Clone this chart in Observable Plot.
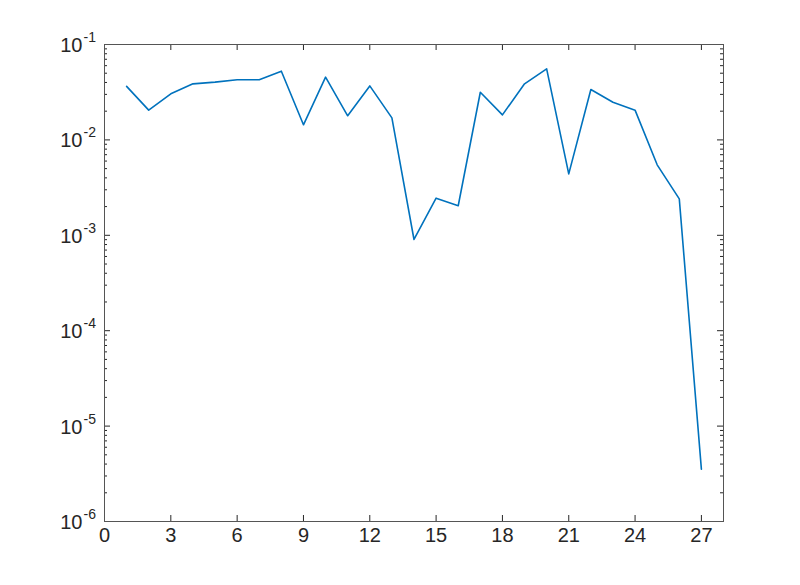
<!DOCTYPE html>
<html><head><meta charset="utf-8">
<script src="https://cdn.jsdelivr.net/npm/d3@7"></script>
<script src="https://cdn.jsdelivr.net/npm/@observablehq/plot@0.6"></script>
<style>body{margin:0;background:#fff;} svg{display:block;}</style>
</head><body><div id="chart"></div>
<script>
const iterations = [1,2,3,4,5,6,7,8,9,10,11,12,13,14,15,16,17,18,19,20,21,22,23,24,25,26,27];
const values = [0.0364,0.0205,0.0304,0.0387,0.0403,0.0427,0.0427,0.0525,0.0144,0.0455,0.0179,0.0368,0.0170,0.000904,0.00245,0.00204,0.0316,0.0183,0.0387,0.0556,0.00440,0.0337,0.0248,0.0205,0.00548,0.00241,0.00000354];
const xTicks = [0,3,6,9,12,15,18,21,24,27];
const yExponents = [-6,-5,-4,-3,-2,-1];

const data = iterations.map((x, i) => ({x, y: values[i]}));
const yMajor = yExponents.map(e => Math.pow(10, e));
const yMinor = [];
for (const e of yExponents.slice(0, -1)) for (let m = 2; m <= 9; m++) yMinor.push(m * Math.pow(10, e));

const W = 800, H = 585, mL = 104, mR = 77, mT = 44, mB = 64;
const fw = W - mL - mR, fh = H - mT - mB;
const major = 6, minor = 3;
const axisColor = "#262626";
const font = "Liberation Sans, Helvetica, Arial, sans-serif";

const chart = Plot.plot({
  width: W,
  height: H,
  marginLeft: mL,
  marginRight: mR,
  marginTop: mT,
  marginBottom: mB,
  style: {fontFamily: font, background: "#fff", color: axisColor},
  x: {domain: [0, 28], axis: null},
  y: {type: "log", domain: [1e-6, 1e-1], axis: null},
  marks: [
    Plot.ruleX(xTicks, {x: d => d, insetTop: fh - major, stroke: axisColor, strokeWidth: 1}),
    Plot.ruleX(xTicks, {x: d => d, insetBottom: fh - major, stroke: axisColor, strokeWidth: 1}),
    Plot.ruleY(yMajor, {y: d => d, insetRight: fw - major, stroke: axisColor, strokeWidth: 1}),
    Plot.ruleY(yMajor, {y: d => d, insetLeft: fw - major, stroke: axisColor, strokeWidth: 1}),
    Plot.ruleY(yMinor, {y: d => d, insetRight: fw - minor, stroke: axisColor, strokeWidth: 1}),
    Plot.ruleY(yMinor, {y: d => d, insetLeft: fw - minor, stroke: axisColor, strokeWidth: 1}),
    Plot.frame({stroke: "#555555", strokeWidth: 1}),
    Plot.text(xTicks, {x: d => d, frameAnchor: "bottom", lineAnchor: "top", dy: 6, text: d => String(d), fontSize: 20, fill: axisColor}),
    Plot.text(yExponents, {y: e => Math.pow(10, e), frameAnchor: "left", textAnchor: "end", dx: -22, dy: 1, text: () => "10", fontSize: 20, fill: axisColor}),
    Plot.text(yExponents, {y: e => Math.pow(10, e), frameAnchor: "left", textAnchor: "start", dx: -21, dy: -7, text: e => String(e), fontSize: 14, fill: axisColor}),
    Plot.line(data, {x: "x", y: "y", stroke: "#0072BD", strokeWidth: 1.6})
  ]
});
document.getElementById("chart").append(chart);
</script>
</body></html>
